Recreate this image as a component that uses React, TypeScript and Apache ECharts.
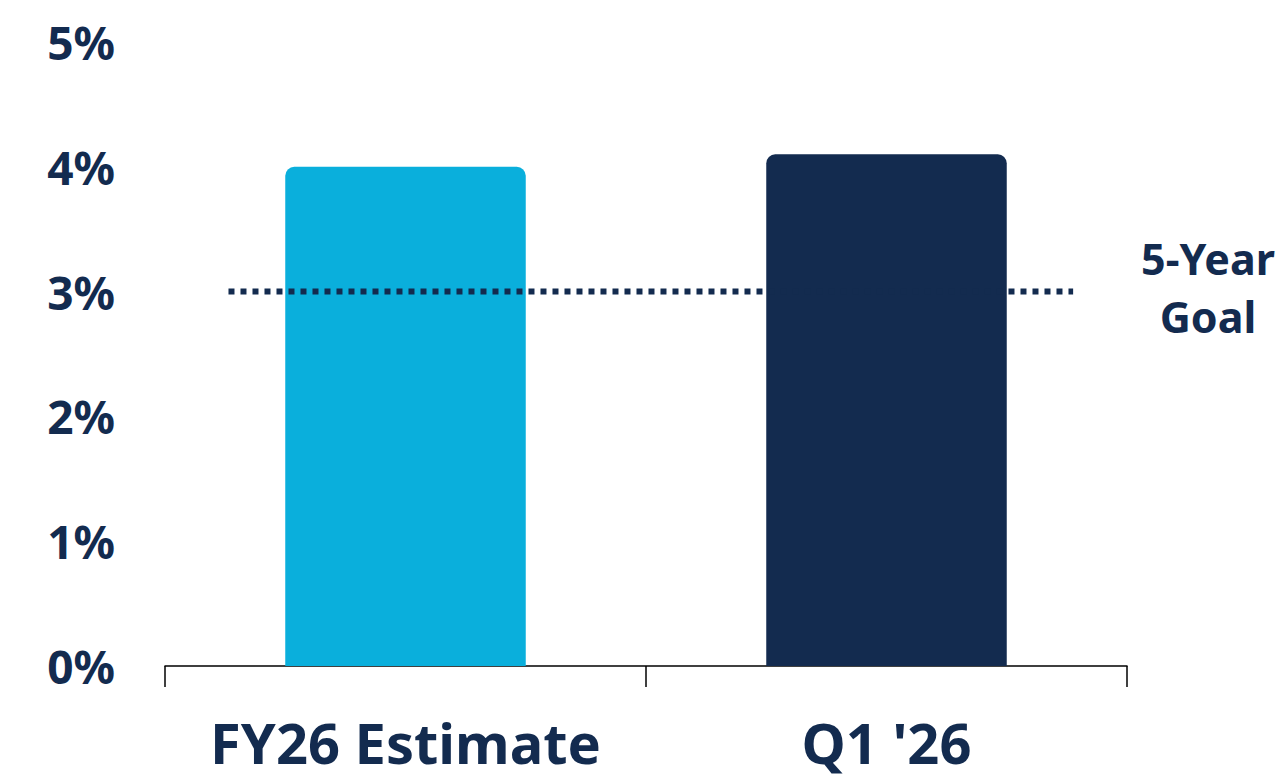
import React, { useEffect, useRef } from "react";
import * as echarts from "echarts";

const categories = ["FY26 Estimate", "Q1 '26"];
const values = [4.0, 4.1];
const barColors = ["#0AAFDC", "#132B4F"];
const yTicks = [0, 1, 2, 3, 4, 5];
const goalValue = 3;
const goalSpan = [0.066, 0.944];
const goalLabel = ["5-Year", "Goal"];

const NAVY = "#132B4F";
const FONT = "'Noto Sans', 'Open Sans', sans-serif";

export default function App() {
  const ref = useRef<HTMLDivElement>(null);
  useEffect(() => {
    if (!ref.current) return;
    const chart = echarts.init(ref.current, undefined, { renderer: "svg" });
    chart.setOption({
      animation: false,
      grid: { left: 165, right: 154, top: 42, bottom: 115 },
      xAxis: [
        {
          type: "category",
          data: categories,
          axisLine: { show: true, lineStyle: { color: "#000", width: 1.5 } },
          axisTick: { show: true, interval: 0, length: 21, lineStyle: { color: "#000", width: 1.5 } },
          axisLabel: {
            interval: 0,
            color: NAVY,
            fontFamily: FONT,
            fontWeight: "bold",
            fontSize: 56,
            lineHeight: 48,
            margin: 52,
          },
        },
        { type: "value", min: 0, max: 1, show: false },
      ],
      yAxis: {
        type: "value",
        min: yTicks[0],
        max: yTicks[yTicks.length - 1],
        interval: 1,
        splitLine: { show: false },
        axisLine: { show: false },
        axisTick: { show: false },
        axisLabel: {
          color: NAVY,
          fontFamily: FONT,
          fontWeight: "bold",
          fontSize: 46,
          margin: 50,
          formatter: (v: number) => `${v}%`,
        },
      },
      series: [
        {
          type: "bar",
          xAxisIndex: 0,
          barWidth: "50%",
          data: values.map((v, i) => ({
            value: v,
            itemStyle: { color: barColors[i], borderRadius: [9, 9, 0, 0] },
          })),
          z: 2,
        },
        {
          type: "line",
          xAxisIndex: 1,
          data: goalSpan.map((x) => [x, goalValue]),
          symbol: "none",
          lineStyle: { color: NAVY, width: 6, type: [6, 6], cap: "butt" },
          z: 3,
        },
      ],
      graphic: [
        {
          type: "text",
          x: 1208,
          y: 229,
          style: {
            text: goalLabel.join("\n"),
            fill: NAVY,
            font: `bold 43px ${FONT}`,
            textAlign: "center",
            lineHeight: 58,
          },
        },
      ],
    });
    return () => chart.dispose();
  }, []);
  return (
    <div
      ref={ref}
      style={{ position: "absolute", left: 0, top: 0, width: 1281, height: 781, background: "#fff" }}
    />
  );
}
